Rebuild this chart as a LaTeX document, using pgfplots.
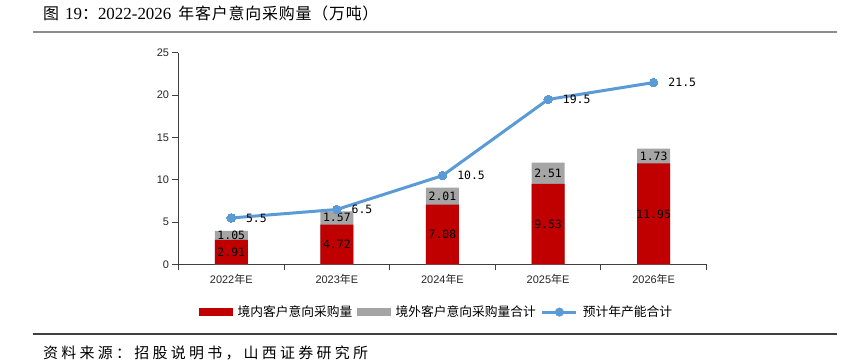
\documentclass[border=0pt]{standalone}
\usepackage{fontspec}
\usepackage{pgfplots}
\pgfplotsset{compat=1.18}
\setmainfont{Liberation Sans}
\newfontfamily\cjk{Noto Sans CJK SC}
\newfontfamily\cjkt[LetterSpace=5]{Noto Sans CJK SC}
\newfontfamily\cjksp[LetterSpace=22]{Noto Sans CJK SC}
\newfontfamily\ser{Liberation Serif}
\newfontfamily\mono{DejaVu Sans Mono}
\definecolor{barred}{HTML}{C00000}
\definecolor{bargray}{HTML}{A5A5A5}
\definecolor{lineblue}{HTML}{5B9BD5}
\definecolor{rulegray}{HTML}{8C8C8C}
\definecolor{axisgray}{HTML}{404040}
\begin{document}
\begin{tikzpicture}[x=1bp,y=1bp]
\path[use as bounding box] (0,0) rectangle (858,362);
\node[anchor=west, inner sep=0] at (43,348.5)
  {{\fontsize{16}{18}\selectfont\cjk 图}\hspace{6bp}{\fontsize{17}{18}\selectfont\ser 19}{\fontsize{16}{18}\selectfont\cjk ：}{\fontsize{17}{18}\selectfont\ser 2022-2026}\hspace{7bp}{\fontsize{16}{18}\selectfont\cjkt 年客户意向采购量（万吨）}};
\draw[line width=2bp, rulegray] (33,330) -- (837,330);
\draw[line width=1.2bp, axisgray] (33,28) -- (837,28);
\node[anchor=west, inner sep=0, font=\fontsize{15}{18}\selectfont] at (43,9)
  {\cjksp 资料来源：招股说明书，山西证券研究所};
\begin{axis}[
  at={(169,115.2)}, anchor=south west,
  scale only axis, width=528bp, height=211.6bp,
  xmin=-0.5, xmax=4.5, ymin=0, ymax=25,
  axis lines=left, axis line style={-, axisgray, line width=1.1bp},
  ytick={0,5,...,25},
  xtick={0,...,4},
  xticklabels={2022{\cjk 年}E,2023{\cjk 年}E,2024{\cjk 年}E,2025{\cjk 年}E,2026{\cjk 年}E},
  minor xtick={-0.5,0.5,...,4.5},
  major x tick style={draw=none},
  tick align=outside, major tick length=6bp, minor tick length=6bp,
  tick style={axisgray, line width=1bp},
  /pgf/number format/assume math mode=true,
  ticklabel style={font=\fontsize{11}{13}\selectfont, text=black!85},
  legend style={at={(0.489,-0.225)}, anchor=center, draw=none, legend columns=3,
    font=\fontsize{12.8}{14}\selectfont,
    /tikz/every even column/.append style={column sep=3bp},
    /tikz/every odd column/.append style={column sep=3bp}},
  clip=false,
]
\addplot[ybar, bar width=33bp, bar shift=0pt, fill=bargray, draw=none, forget plot]
  coordinates {(0,3.96) (1,6.29) (2,9.09) (3,12.04) (4,13.68)};
\addplot[ybar, bar width=33bp, bar shift=0pt, fill=barred, draw=none, forget plot]
  coordinates {(0,2.91) (1,4.72) (2,7.08) (3,9.53) (4,11.95)};
\addplot[draw=none, mark=none, forget plot, nodes near coords, point meta=explicit symbolic,
  every node near coord/.append style={anchor=center, text=black, font=\mono\fontsize{11.5}{13}\selectfont}]
  coordinates {(0,1.455)[2.91] (0,3.435)[1.05] (1,2.36)[4.72] (1,5.505)[1.57]
               (2,3.54)[7.08] (2,8.085)[2.01] (3,4.765)[9.53] (3,10.785)[2.51]
               (4,5.975)[11.95] (4,12.815)[1.73]};
\addplot[lineblue, line width=3bp, mark=*, mark size=4.3bp,
  mark options={fill=lineblue, draw=lineblue, line width=0pt}, forget plot,
  nodes near coords, point meta=explicit symbolic,
  every node near coord/.append style={anchor=west, xshift=11.5bp, text=black, font=\mono\fontsize{11.5}{13}\selectfont}]
  coordinates {(0,5.5)[5.5] (1,6.5)[6.5] (2,10.5)[10.5] (3,19.5)[19.5] (4,21.5)[21.5]};
\addlegendimage{legend image code/.code={\fill[barred] (0bp,-3.5bp) rectangle (33bp,3.5bp);}}
\addlegendentry{\cjk 境内客户意向采购量}
\addlegendimage{legend image code/.code={\fill[bargray] (0bp,-3.5bp) rectangle (33bp,3.5bp);}}
\addlegendentry{\cjk 境外客户意向采购量合计}
\addlegendimage{legend image code/.code={\draw[lineblue, line width=3bp] (0bp,0bp) -- (34bp,0bp); \fill[lineblue] (17bp,0bp) circle (4.3bp);}}
\addlegendentry{\cjk 预计年产能合计}
\end{axis}
\end{tikzpicture}
\end{document}
